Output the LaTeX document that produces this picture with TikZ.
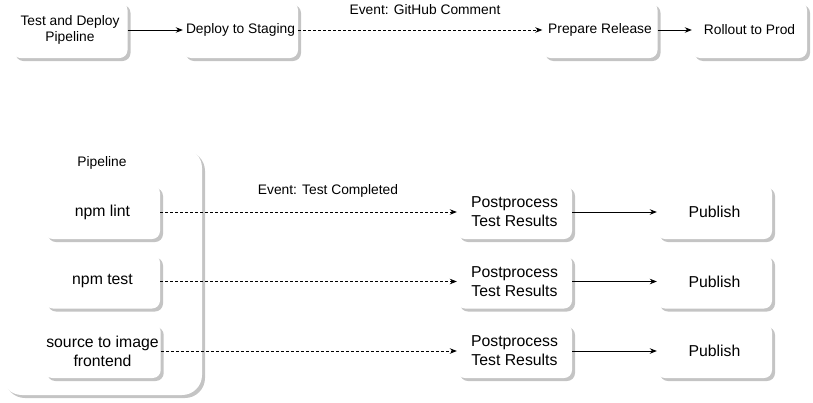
\documentclass[tikz,border=0pt]{standalone}
\usepackage{fontspec}
\setmainfont{Liberation Sans}
\usepackage{tikz}
\usetikzlibrary{arrows.meta,shadows}

\begin{document}
\begin{tikzpicture}[x=1pt, y=-1pt,
    box/.style={rectangle, rounded corners=8pt, fill=white, align=center,
      minimum width=115pt, minimum height=56pt, inner sep=2pt,
      drop shadow={shadow xshift=3pt, shadow yshift=-3pt, fill=shadowgray, opacity=1},
      font=\fontsize{13.8}{16.5}\selectfont},
    bigbox/.style={box, minimum height=54pt, font=\fontsize{15.8}{19}\selectfont},
    lbl/.style={font=\fontsize{13.8}{16.5}\selectfont},
    flow/.style={-{Stealth[length=7pt, width=5.5pt]}, line width=0.8pt},
    event/.style={flow, dashed, dash pattern=on 3pt off 2pt}]
    \definecolor{shadowgray}{RGB}{196,196,196}

    \useasboundingbox (0,0) rectangle (813,402);

    % top row
    \node (tdp) at (70,30) [box] {Test and Deploy\\Pipeline};
    \node (stage) at (240.5,30) [box] {Deploy to Staging};
    \node (prep) at (600,30) [box] {Prepare Release};
    \node (prod) at (749.5,30) [box] {Rollout to Prod};
    \node (ghlbl) at (425,10) [lbl] {Event: GitHub Comment};

    \draw[flow] (tdp) -- (stage);
    \draw[event] (stage) -- (prep);
    \draw[flow] (prep) -- (prod);

    % pipeline and its steps
    \node (pipe) at (102,271.5) [box, rounded corners=20pt, minimum width=200pt, minimum height=247pt] {};
    \node (pipelbl) at (102,163) [lbl] {Pipeline};
    \node (lint) at (102.5,212) [bigbox] {npm lint};
    \node (test) at (102.5,281.5) [bigbox] {npm test};
    \node (s2i) at (102.5,351) [bigbox] {source to image\\frontend};
    \node (tclbl) at (328,191) [lbl] {Event: Test Completed};

    \foreach \s/\y [count=\i] in {lint/212, test/281.5, s2i/351} {
      \node (post\i) at (514.5,\y) [bigbox] {Postprocess\\Test Results};
      \node (pub\i) at (714.5,\y) [bigbox] {Publish};
      \draw[event] (\s) -- (post\i);
      \draw[flow] (post\i) -- (pub\i);
    }
\end{tikzpicture}
\end{document}
